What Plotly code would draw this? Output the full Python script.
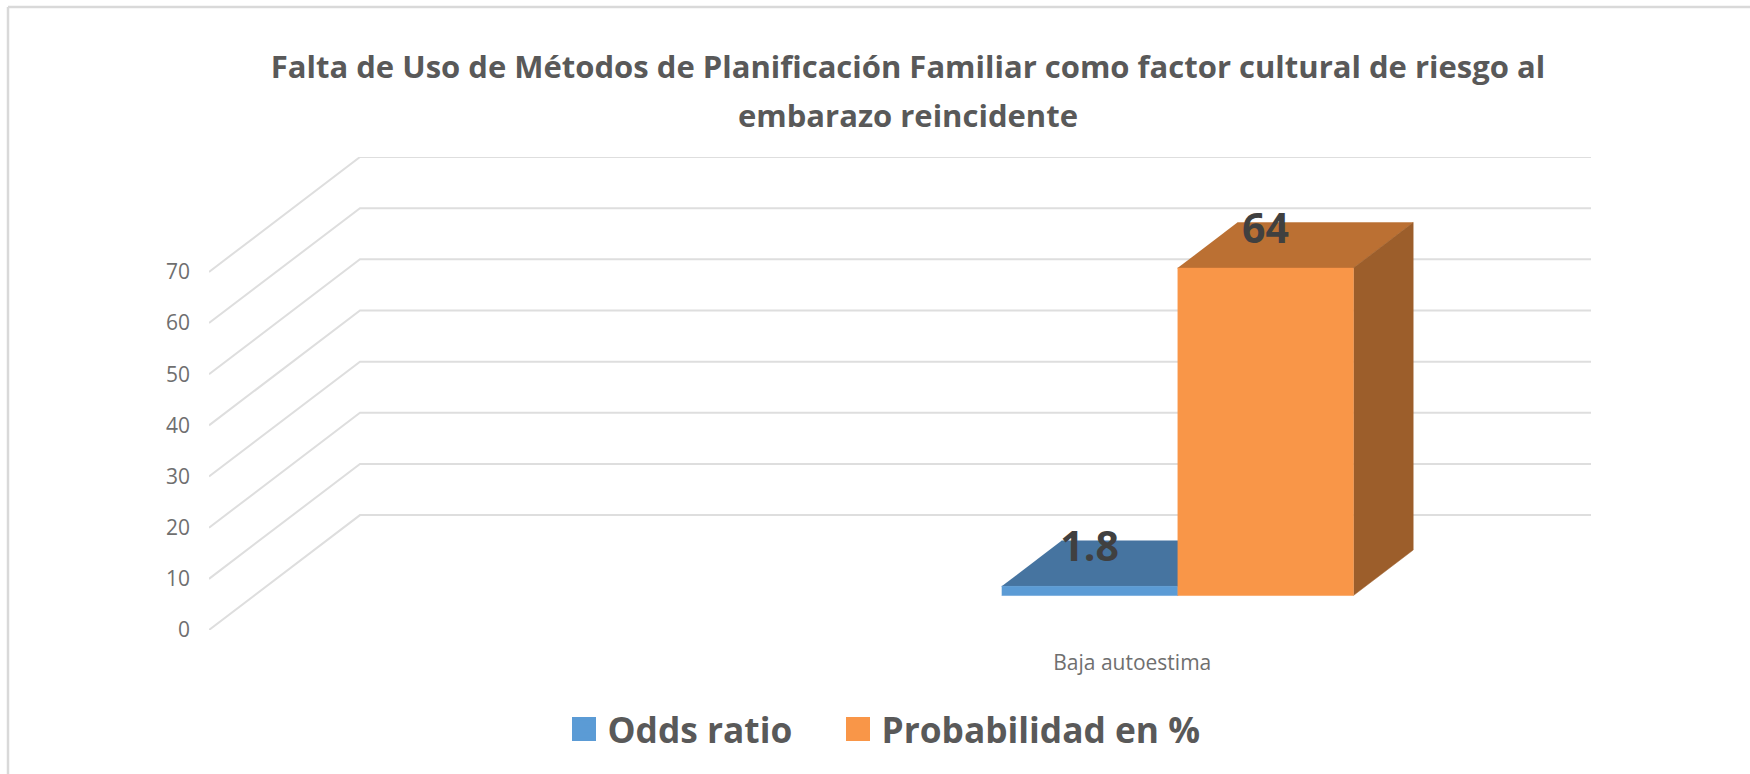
import plotly.graph_objects as go

# ---- data ----
categories = ["", "Baja autoestima"]
series_names = ["Odds ratio", "Probabilidad en %"]
odds_ratio = [None, 1.8]
probabilidad = [None, 64]
y_ticks = [0, 10, 20, 30, 40, 50, 60, 70]
title_lines = ["Falta de Uso de Métodos de Planificación Familiar como factor cultural de riesgo al",
               "embarazo reincidente"]

# ---- oblique projection (axis units) ----
DX = 0.2453        # horizontal shift of full depth, in category slots
DY = 22.46         # vertical shift of full depth, in value units
BAR_FRONT, BAR_BACK = 0.30, 0.696
GAP_WIDTH = 1.5
BAR_W = 1 / (2 + GAP_WIDTH)
FONT = "Open Sans"
FRONT = ["#5B9BD5", "#F99648"]
TOP = ["#4674A0", "#BB7033"]
SIDE = ["#3B6A94", "#9C5E2B"]
GRID = "#DEDEDE"

W, H = 1750, 774
L, R, T, B = 209, 1591, 157, 630


def proj(x, v, d):
    return x + DX * d, v + DY * d


def px_x(p):
    return (p - L) / (R - L)


def px_y(p):
    return (B - p) / (B - T)


fig = go.Figure()

# gridlines: left wall + back wall
for t in y_ticks:
    pts = [proj(0, t, 0), proj(0, t, 1), proj(2, t, 1)]
    fig.add_trace(go.Scatter(x=[p[0] for p in pts], y=[p[1] for p in pts], mode="lines",
                             line=dict(color=GRID, width=2), hoverinfo="skip",
                             showlegend=False, cliponaxis=False))


def face(points, color):
    fig.add_trace(go.Scatter(x=[p[0] for p in points], y=[p[1] for p in points], mode="lines",
                             fill="toself", fillcolor=color, line=dict(color=color, width=0.5),
                             hoverinfo="skip", showlegend=False, cliponaxis=False))


all_vals = [odds_ratio, probabilidad]
for cat_i, _ in enumerate(categories):
    for s, vals in enumerate(all_vals):
        v = vals[cat_i]
        if v is None:
            continue
        center = cat_i + 0.5
        x0 = center - BAR_W + s * BAR_W
        x1 = x0 + BAR_W
        a, b = BAR_FRONT, BAR_BACK
        face([proj(x0, v, a), proj(x1, v, a), proj(x1, v, b), proj(x0, v, b)], TOP[s])
        face([proj(x1, 0, a), proj(x1, 0, b), proj(x1, v, b), proj(x1, v, a)], SIDE[s])
        face([proj(x0, 0, a), proj(x1, 0, a), proj(x1, v, a), proj(x0, v, a)], FRONT[s])
        fx, fy = proj((x0 + x1) / 2, v, a)
        fig.add_trace(go.Scatter(x=[fx], y=[fy + 6.9], mode="text", text=[str(v)],
                                 textposition="middle center",
                                 textfont=dict(family=FONT, size=41, color="#404040", weight="bold"),
                                 hoverinfo="skip", showlegend=False, cliponaxis=False))

# legend entries
legend_ids = ["legend", "legend2"]
for s, name in enumerate(series_names):
    fig.add_trace(go.Bar(x=[None], y=[None], name=name, legend=legend_ids[s], showlegend=True,
                         marker=dict(color=FRONT[s], line=dict(color=FRONT[s], width=12))))

legend_font = dict(family=FONT, size=35.3, color="#595959", weight="bold")


def legend_at(x_px):
    return dict(orientation="h", xref="container", yref="container", x=x_px / W, xanchor="left",
                y=1 - 729 / H, yanchor="middle", font=legend_font, bgcolor="rgba(0,0,0,0)")


def swatch(x_center, color):
    return dict(type="rect", xref="paper", yref="paper", layer="above",
                x0=px_x(x_center - 12), x1=px_x(x_center + 12), y0=px_y(741), y1=px_y(717),
                fillcolor=color, line=dict(width=0))


fig.update_layout(
    width=W, height=H, autosize=False,
    paper_bgcolor="white", plot_bgcolor="white",
    margin=dict(l=L, r=W - R, t=T, b=H - B, pad=0),
    title=dict(text=title_lines[0], x=908 / W, xanchor="center", xref="container",
               y=1 - 67 / H, yanchor="middle", yref="container",
               font=dict(family=FONT, size=31, color="#595959", weight="bold")),
    xaxis=dict(range=[0, 2 + DX], tickmode="array", tickvals=[i + 0.5 for i in range(len(categories))],
               ticktext=categories, showgrid=False, zeroline=False, showline=False, ticks="",
               ticklabelstandoff=18, tickfont=dict(family=FONT, size=21, color="#6F6F6F"), fixedrange=True),
    yaxis=dict(range=[0, 70 + DY], tickmode="array", tickvals=y_ticks, showgrid=False, zeroline=False,
               showline=False, ticks="", ticklabelstandoff=18,
               tickfont=dict(family=FONT, size=21, color="#6F6F6F"), fixedrange=True),
    legend=legend_at(567.5),
    legend2=legend_at(841.5),
    annotations=[dict(text=title_lines[1], x=px_x(908), y=px_y(115),
                      xref="paper", yref="paper", showarrow=False, xanchor="center", yanchor="middle",
                      font=dict(family=FONT, size=31, color="#595959", weight="bold"))],
    shapes=[dict(type="line", xref="paper", yref="paper",
                 x0=px_x(8), x1=px_x(8), y0=px_y(7), y1=px_y(H),
                 line=dict(color="#D9D9D9", width=2.5)),
            dict(type="line", xref="paper", yref="paper",
                 x0=px_x(8), x1=px_x(W), y0=px_y(7), y1=px_y(7),
                 line=dict(color="#D9D9D9", width=2.5)),
            swatch(584, FRONT[0]), swatch(858, FRONT[1])],
)

fig.write_html("out.html", config={"displayModeBar": False},
               post_script="document.body.style.margin='0';document.documentElement.style.overflow='hidden';")
